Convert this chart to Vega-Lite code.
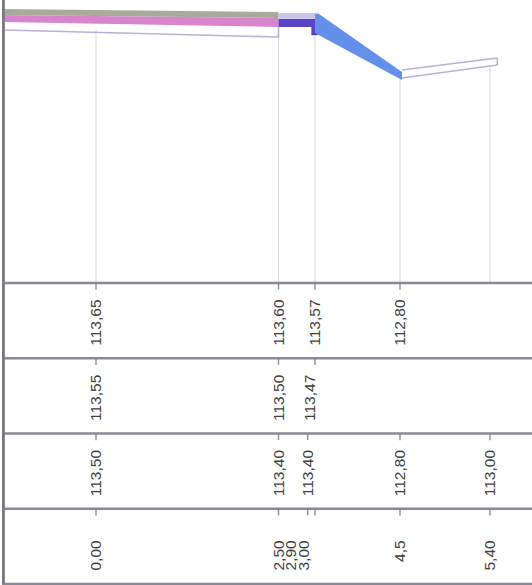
{
  "$schema": "https://vega.github.io/schema/vega-lite/v6.json",
  "padding": 0,
  "spacing": 0,
  "bounds": "flush",
  "background": "white",
  "config": {"view": {"stroke": null}},
  "datasets": {
    "gray": [{"x": -1.3, "top": 113.662, "bot": 113.584}, {"x": 2.5, "top": 113.623, "bot": 113.545}],
    "pink": [{"x": -1.3, "top": 113.584, "bot": 113.492}, {"x": 2.5, "top": 113.545, "bot": 113.427}],
    "lav": [{"x": 2.5, "top": 113.61, "bot": 113.532}, {"x": 3.07, "top": 113.61, "bot": 113.532}],
    "dark": [{"x": 2.5, "top": 113.532, "bot": 113.427}, {"x": 3.0, "top": 113.532, "bot": 113.427}],
    "darkstep": [{"x": 2.95, "top": 113.45, "bot": 113.32}, {"x": 3.05, "top": 113.45, "bot": 113.32}],
    "blue": [{"x": 3.0, "top": 113.597, "bot": 113.349}, {"x": 3.07, "top": 113.597, "bot": 113.32}, {"x": 4.52, "top": 112.839, "bot": 112.734}],
    "rlines": [
      {"g": "u", "i": 0, "x": 4.52, "e": 112.865}, {"g": "u", "i": 1, "x": 5.5, "e": 113.022},
      {"g": "l", "i": 0, "x": 4.52, "e": 112.76}, {"g": "l", "i": 1, "x": 5.5, "e": 112.93},
      {"g": "c", "i": 0, "x": 5.5, "e": 113.022}, {"g": "c", "i": 1, "x": 5.5, "e": 112.93},
      {"g": "o", "i": 0, "x": -1.26, "e": 113.388}, {"g": "o", "i": 1, "x": 2.5, "e": 113.296}, {"g": "o", "i": 2, "x": 2.5, "e": 113.427}
    ],
    "stations": [
      {"x": 0, "top": 113.39}, {"x": 2.5, "top": 113.3}, {"x": 3.0, "top": 113.32}, {"x": 4.5, "top": 112.75}, {"x": 5.4, "top": 112.93}
    ],
    "edge": [{"x": -1.3, "x2": -1.26}],
    "rows": [{"row": "r1"}, {"row": "r2"}, {"row": "r3"}, {"row": "r4"}],
    "labels": [
      {"row": "r1", "x": 0, "t": "113,65"}, {"row": "r1", "x": 2.5, "t": "113,60"}, {"row": "r1", "x": 3.0, "t": "113,57"}, {"row": "r1", "x": 4.5, "t": "112,80"},
      {"row": "r2", "x": 0, "t": "113,55"}, {"row": "r2", "x": 2.5, "t": "113,50"}, {"row": "r2", "x": 3.0, "t": "113,47"},
      {"row": "r3", "x": 0, "t": "113,50"}, {"row": "r3", "x": 2.5, "t": "113,40"}, {"row": "r3", "x": 2.9, "t": "113,40"}, {"row": "r3", "x": 4.5, "t": "112,80"}, {"row": "r3", "x": 5.4, "t": "113,00"},
      {"row": "r4", "x": 0, "t": "0,00"}, {"row": "r4", "x": 2.5, "t": "2,50"}, {"row": "r4", "x": 2.9, "t": "2,90"}, {"row": "r4", "x": 3.0, "t": "3,00"}, {"row": "r4", "x": 4.5, "t": "4,5"}, {"row": "r4", "x": 5.4, "t": "5,40"}
    ]
  },
  "vconcat": [
    {
      "width": 532,
      "height": 283,
      "layer": [
        {
          "data": {"name": "stations"},
          "mark": {"type": "rule", "color": "#d8d8e0", "strokeWidth": 1},
          "encoding": {
            "x": {"field": "x", "type": "quantitative", "axis": null, "scale": {"domain": [-1.3, 0, 2.5, 3.0, 4.5, 5.4, 6.0], "range": [0, 94, 276.5, 313, 398, 488, 532], "nice": false, "zero": false}},
            "y": {"field": "top", "type": "quantitative", "axis": null, "scale": {"domain": [110.08, 113.78], "nice": false, "zero": false}},
            "y2": {"datum": 110.08}
          }
        },
        {
          "data": {"name": "gray"},
          "mark": {"type": "area", "color": "#a9aa9c"},
          "encoding": {
            "x": {"field": "x", "type": "quantitative"},
            "y": {"field": "top", "type": "quantitative"},
            "y2": {"field": "bot"}
          }
        },
        {
          "data": {"name": "pink"},
          "mark": {"type": "area", "color": "#d785cc"},
          "encoding": {
            "x": {"field": "x", "type": "quantitative"},
            "y": {"field": "top", "type": "quantitative"},
            "y2": {"field": "bot"}
          }
        },
        {
          "data": {"name": "lav"},
          "mark": {"type": "area", "color": "#cbc6ea"},
          "encoding": {
            "x": {"field": "x", "type": "quantitative"},
            "y": {"field": "top", "type": "quantitative"},
            "y2": {"field": "bot"}
          }
        },
        {
          "data": {"name": "dark"},
          "mark": {"type": "area", "color": "#5a44c8"},
          "encoding": {
            "x": {"field": "x", "type": "quantitative"},
            "y": {"field": "top", "type": "quantitative"},
            "y2": {"field": "bot"}
          }
        },
        {
          "data": {"name": "darkstep"},
          "mark": {"type": "area", "color": "#5a44c8"},
          "encoding": {
            "x": {"field": "x", "type": "quantitative"},
            "y": {"field": "top", "type": "quantitative"},
            "y2": {"field": "bot"}
          }
        },
        {
          "data": {"name": "blue"},
          "mark": {"type": "area", "color": "#6490ec"},
          "encoding": {
            "x": {"field": "x", "type": "quantitative"},
            "y": {"field": "top", "type": "quantitative"},
            "y2": {"field": "bot"}
          }
        },
        {
          "data": {"name": "rlines"},
          "mark": {"type": "line", "color": "#b9b2d4", "strokeWidth": 1.6},
          "encoding": {
            "x": {"field": "x", "type": "quantitative"},
            "y": {"field": "e", "type": "quantitative"},
            "detail": {"field": "g"},
            "order": {"field": "i"}
          }
        },
        {
          "data": {"name": "edge"},
          "mark": {"type": "rect", "color": "#7a7a80"},
          "encoding": {"x": {"field": "x", "type": "quantitative"}, "x2": {"field": "x2"}}
        }
      ]
    },
    {
      "width": 532,
      "height": 301,
      "layer": [
        {
          "data": {"name": "rows"},
          "mark": {"type": "rule", "color": "#8a889a", "strokeWidth": 2.5},
          "encoding": {
            "y": {"field": "row", "type": "nominal", "bandPosition": 0, "axis": null, "scale": {"type": "band", "domain": ["r1", "r2", "r3", "r4"], "paddingInner": 0, "paddingOuter": 0}}
          }
        },
        {
          "data": {"name": "rows"},
          "transform": [{"filter": "datum.row == 'r4'"}],
          "mark": {"type": "rule", "color": "#8a889a", "strokeWidth": 2.5},
          "encoding": {
            "y": {"field": "row", "type": "nominal", "bandPosition": 1, "axis": null, "scale": {"type": "band", "domain": ["r1", "r2", "r3", "r4"], "paddingInner": 0, "paddingOuter": 0}}
          }
        },
        {
          "data": {"name": "labels"},
          "mark": {"type": "tick", "orient": "vertical", "size": 6, "thickness": 1.5, "yOffset": -34, "color": "#6a6a6a"},
          "encoding": {
            "x": {"field": "x", "type": "quantitative", "axis": null, "scale": {"domain": [-1.3, 0, 2.5, 3.0, 4.5, 5.4, 6.0], "range": [0, 94, 276.5, 313, 398, 488, 532], "nice": false, "zero": false}},
            "y": {"field": "row", "type": "nominal", "axis": null, "scale": {"type": "band", "domain": ["r1", "r2", "r3", "r4"], "paddingInner": 0, "paddingOuter": 0}}
          }
        },
        {
          "data": {"name": "labels"},
          "transform": [{"filter": "datum.row != 'r4' && !(datum.row == 'r2' && datum.x == 3.0)"}],
          "mark": {"type": "text", "angle": 270, "align": "center", "baseline": "middle", "dx": -2, "font": "Liberation Sans", "fontSize": 15.5, "color": "#404040"},
          "encoding": {
            "x": {"field": "x", "type": "quantitative", "axis": null},
            "y": {"field": "row", "type": "nominal", "axis": null, "scale": {"type": "band", "domain": ["r1", "r2", "r3", "r4"], "paddingInner": 0, "paddingOuter": 0}},
            "text": {"field": "t"}
          }
        },
        {
          "data": {"name": "labels"},
          "transform": [{"filter": "datum.row == 'r2' && datum.x == 3.0"}],
          "mark": {"type": "text", "angle": 270, "align": "center", "baseline": "middle", "dx": -2, "dy": -5, "font": "Liberation Sans", "fontSize": 15.5, "color": "#404040"},
          "encoding": {
            "x": {"field": "x", "type": "quantitative", "axis": null},
            "y": {"field": "row", "type": "nominal", "axis": null, "scale": {"type": "band", "domain": ["r1", "r2", "r3", "r4"], "paddingInner": 0, "paddingOuter": 0}},
            "text": {"field": "t"}
          }
        },
        {
          "data": {"name": "labels"},
          "transform": [{"filter": "datum.row == 'r4' && datum.x != 2.9 && datum.x != 3.0"}],
          "mark": {"type": "text", "angle": 270, "align": "right", "baseline": "middle", "dx": 6, "font": "Liberation Sans", "fontSize": 15.5, "color": "#404040"},
          "encoding": {
            "x": {"field": "x", "type": "quantitative", "axis": null},
            "y": {"field": "row", "type": "nominal", "axis": null, "scale": {"type": "band", "domain": ["r1", "r2", "r3", "r4"], "paddingInner": 0, "paddingOuter": 0}},
            "text": {"field": "t"}
          }
        },
        {
          "data": {"name": "labels"},
          "transform": [{"filter": "datum.row == 'r4' && datum.x == 2.9"}],
          "mark": {"type": "text", "angle": 270, "align": "right", "baseline": "middle", "dx": 6, "dy": -17, "font": "Liberation Sans", "fontSize": 15.5, "color": "#404040"},
          "encoding": {
            "x": {"field": "x", "type": "quantitative", "axis": null},
            "y": {"field": "row", "type": "nominal", "axis": null, "scale": {"type": "band", "domain": ["r1", "r2", "r3", "r4"], "paddingInner": 0, "paddingOuter": 0}},
            "text": {"field": "t"}
          }
        },
        {
          "data": {"name": "labels"},
          "transform": [{"filter": "datum.row == 'r4' && datum.x == 3.0"}],
          "mark": {"type": "text", "angle": 270, "align": "right", "baseline": "middle", "dx": 6, "dy": -11, "font": "Liberation Sans", "fontSize": 15.5, "color": "#404040"},
          "encoding": {
            "x": {"field": "x", "type": "quantitative", "axis": null},
            "y": {"field": "row", "type": "nominal", "axis": null, "scale": {"type": "band", "domain": ["r1", "r2", "r3", "r4"], "paddingInner": 0, "paddingOuter": 0}},
            "text": {"field": "t"}
          }
        },
        {
          "data": {"name": "edge"},
          "mark": {"type": "rect", "color": "#7a7a80"},
          "encoding": {"x": {"field": "x", "type": "quantitative"}, "x2": {"field": "x2"}}
        }
      ]
    }
  ]
}
